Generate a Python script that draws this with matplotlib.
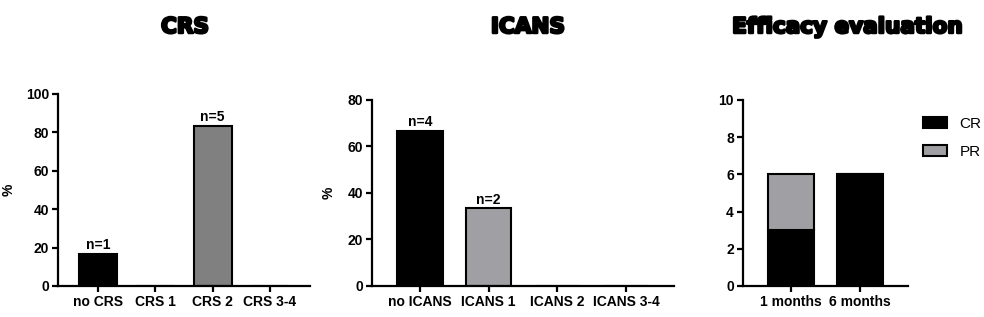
import matplotlib.pyplot as plt
import matplotlib.patheffects as pe
from matplotlib.patches import Patch

# ------------------------------------------------------------
# Data
# ------------------------------------------------------------
crs_labels = ["no CRS", "CRS 1", "CRS 2", "CRS 3-4"]
crs_pct = [16.7, 0, 83.3, 0]
crs_n = ["n=1", "", "n=5", ""]
crs_colors = ["#000000", "#ffffff", "#808080", "#ffffff"]

icans_labels = ["no ICANS", "ICANS 1", "ICANS 2", "ICANS 3-4"]
icans_pct = [66.7, 33.3, 0, 0]
icans_n = ["n=4", "n=2", "", ""]
icans_colors = ["#000000", "#a0a0a4", "#ffffff", "#ffffff"]

eff_labels = ["1 months", "6 months"]
eff_cr = [3, 6]
eff_pr = [3, 0]

# ------------------------------------------------------------
# Style
# ------------------------------------------------------------
plt.rcParams["font.family"] = ["Liberation Sans", "DejaVu Sans"]
TICK_FS = 10
TITLE_FONT = dict(family=["DejaVu Sans"], fontweight="bold", fontsize=15.5,
                  path_effects=[pe.withStroke(linewidth=1.8, foreground="black")])
BAR_W = 0.66


def style_axes(ax):
    for side in ("top", "right"):
        ax.spines[side].set_visible(False)
    for side in ("left", "bottom"):
        ax.spines[side].set_linewidth(1.6)
    ax.tick_params(width=1.6, length=4, labelsize=TICK_FS, pad=2.5)
    for lab in ax.get_xticklabels() + ax.get_yticklabels():
        lab.set_fontweight("bold")


def pct_panel(ax, labels, values, colors, nlabels, ymax, step):
    x = range(len(labels))
    bars = ax.bar(x, values, width=BAR_W, color=colors, edgecolor="black", linewidth=1.5)
    for b, v, t in zip(bars, values, nlabels):
        if t:
            ax.text(b.get_x() + b.get_width() / 2, v + ymax * 0.008, t,
                    ha="center", va="bottom", fontsize=TICK_FS, fontweight="bold")
    ax.set_xticks(list(x))
    ax.set_xticklabels(labels)
    ax.set_xlim(-0.7, len(labels) - 1 + 0.7)
    ax.set_ylim(0, ymax)
    ax.set_yticks(range(0, ymax + 1, step))
    ax.set_ylabel("%", fontsize=TICK_FS, fontweight="bold")
    style_axes(ax)


fig = plt.figure(figsize=(9.84, 3.17), dpi=100)

ax1 = fig.add_axes([0.059, 0.098, 0.256, 0.606])
pct_panel(ax1, crs_labels, crs_pct, crs_colors, crs_n, 100, 20)
ax1.yaxis.set_label_coords(-0.17, 0.5)

ax2 = fig.add_axes([0.378, 0.098, 0.307, 0.587])
pct_panel(ax2, icans_labels, icans_pct, icans_colors, icans_n, 80, 20)
ax2.yaxis.set_label_coords(-0.12, 0.5)

ax3 = fig.add_axes([0.755, 0.098, 0.168, 0.587])
xe = range(len(eff_labels))
ax3.bar(xe, eff_cr, width=BAR_W, color="black", edgecolor="black", linewidth=1.5)
ax3.bar(xe, eff_pr, width=BAR_W, bottom=eff_cr, color="#a0a0a4",
        edgecolor="black", linewidth=1.5)
ax3.set_xticks(list(xe))
ax3.set_xticklabels(eff_labels)
ax3.set_xlim(-0.7, 1.7)
ax3.set_ylim(0, 10)
ax3.set_yticks(range(0, 11, 2))
style_axes(ax3)

handles = [Patch(facecolor="black", edgecolor="black", linewidth=1.5),
           Patch(facecolor="#a0a0a4", edgecolor="black", linewidth=1.5)]
fig.legend(handles, ["CR", "PR"], loc="upper left", bbox_to_anchor=(0.924, 0.675),
           frameon=False, fontsize=11, handlelength=1.6, handleheight=0.8,
           labelspacing=0.9, handletextpad=0.8)

ty = 1 - 25 / 317
fig.text(185 / 984, ty, "CRS", ha="center", va="center_baseline", **TITLE_FONT)
fig.text(528 / 984, ty, "ICANS", ha="center", va="center_baseline", **TITLE_FONT)
fig.text(847 / 984, ty, "Efficacy evaluation", ha="center", va="center_baseline", **TITLE_FONT)

fig.savefig("out.png", dpi=100, facecolor="white")
